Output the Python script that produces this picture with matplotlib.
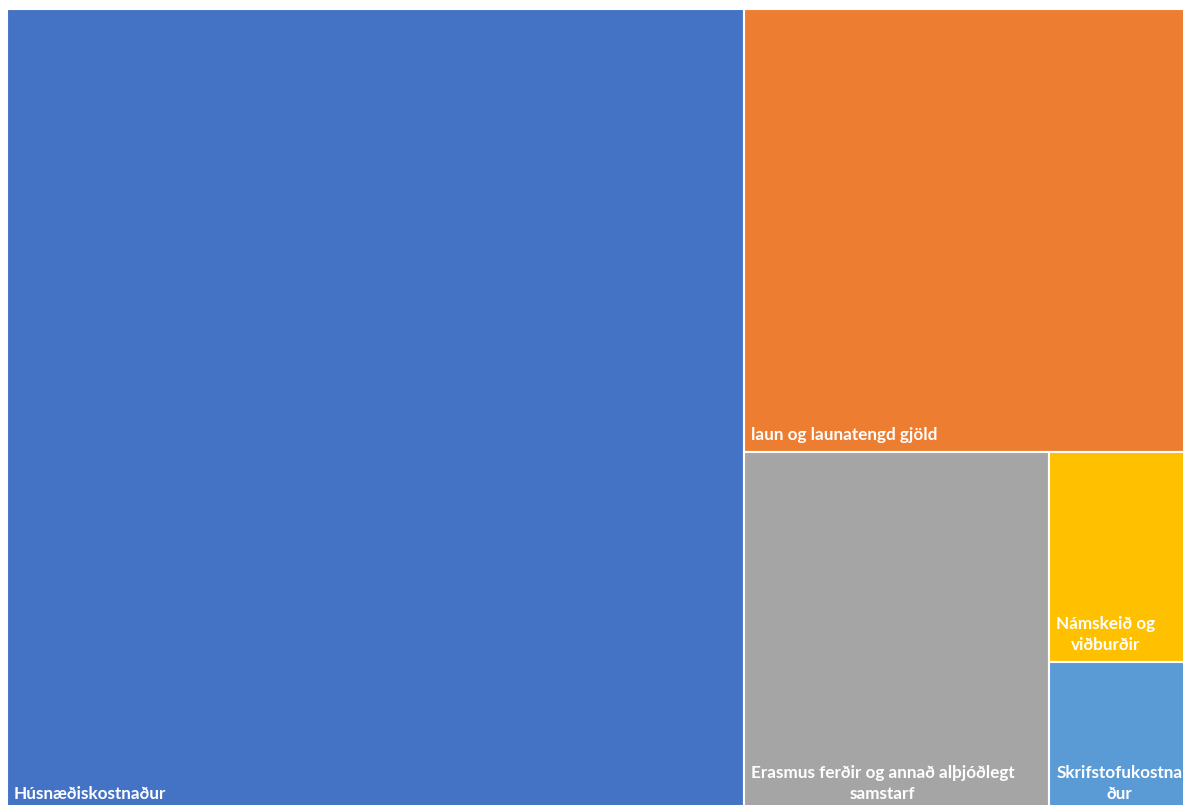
import matplotlib
matplotlib.use("Agg")
import matplotlib.pyplot as plt
from matplotlib.patches import Rectangle

# kostnaðarliðir (hlutfall af heild, lesið af myndinni)
labels = ["Húsnæðiskostnaður",
          "laun og launatengd gjöld",
          "Erasmus ferðir og annað alþjóðlegt\nsamstarf",
          "Námskeið og\nviðburðir",
          "Skrifstofukostna\nður"]
values = [62.5, 20.7, 11.6, 3.05, 2.15]
colors = ["#4472C4", "#ED7D31", "#A5A5A5", "#FFC000", "#5B9BD5"]

W, H = 1179.0, 802.0


def layout(vals, x, y, w, h):
    # first item takes a full strip along the longer side, then recurse
    if not vals:
        return []
    if len(vals) == 1:
        return [(x, y, w, h)]
    frac = vals[0] / sum(vals)
    if w >= h:
        ww = w * frac
        return [(x, y, ww, h)] + layout(vals[1:], x + ww, y, w - ww, h)
    hh = h * frac
    return [(x, y, w, hh)] + layout(vals[1:], x, y + hh, w, h - hh)


rects = layout(values, 0, 0, W, H)

fig = plt.figure(figsize=(11.83, 8.05), dpi=100)
ax = fig.add_axes([7 / 1183, -6 / 805, 1179 / 1183, 802 / 805])
ax.set_xlim(0, W)
ax.set_ylim(H, 0)
ax.axis("off")

for (x, y, w, h), lab, c in zip(rects, labels, colors):
    ax.add_patch(Rectangle((x, y), w, h, facecolor=c, edgecolor="white", linewidth=1.5))
    ax.annotate(lab, (x, y + h), xytext=(7, 9), textcoords="offset pixels",
                ha="left", va="bottom", multialignment="center",
                color="white", fontsize=12.3, fontweight="bold",
                family=["Lato", "DejaVu Sans"], linespacing=1.4)

fig.savefig("out.png", dpi=100)
